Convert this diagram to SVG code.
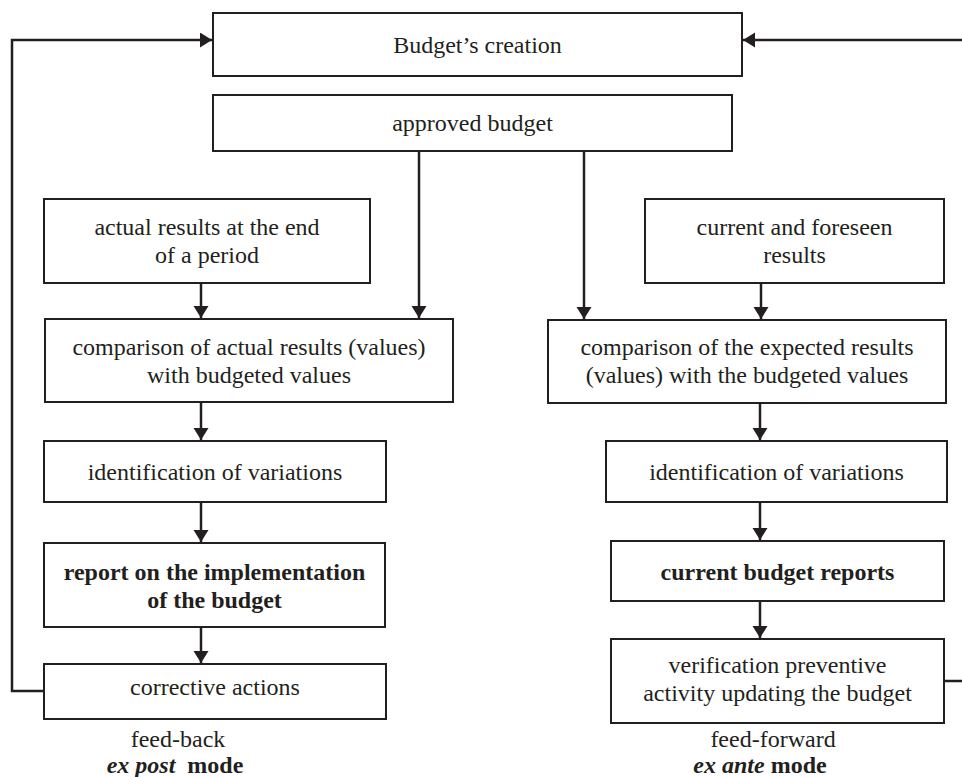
<svg xmlns="http://www.w3.org/2000/svg" width="962" height="777" viewBox="0 0 962 777">
<style>
.box{fill:#fff;stroke:#231f20;stroke-width:2}
.t{font-family:"Liberation Serif","Times New Roman",serif;font-size:24px;fill:#231f20;text-anchor:middle}
.b{font-weight:bold}
.bi{font-weight:bold;font-style:italic}
.c{fill:none;stroke:#231f20;stroke-width:2.5}
</style>
<defs>
<marker id="ah" markerUnits="userSpaceOnUse" markerWidth="13" markerHeight="16" refX="12" refY="7.5" orient="auto">
<path d="M0,0 L12,7.5 L0,15 z" fill="#231f20"/>
</marker>
</defs>
<rect width="962" height="777" fill="#fff"/>
<g id="connectors">
<polyline class="c" points="44,691 12,691 12,40 212,40" marker-end="url(#ah)"/>
<line class="c" x1="944" y1="681" x2="962" y2="681"/>
<line class="c" x1="962" y1="40" x2="743" y2="40" marker-end="url(#ah)"/>
<line class="c" x1="419" y1="151" x2="419" y2="318" marker-end="url(#ah)"/>
<line class="c" x1="584" y1="151" x2="584" y2="319" marker-end="url(#ah)"/>
<line class="c" x1="201" y1="283" x2="201" y2="318" marker-end="url(#ah)"/>
<line class="c" x1="761" y1="283" x2="761" y2="319" marker-end="url(#ah)"/>
<line class="c" x1="201" y1="402" x2="201" y2="440" marker-end="url(#ah)"/>
<line class="c" x1="201" y1="502" x2="201" y2="542" marker-end="url(#ah)"/>
<line class="c" x1="201" y1="627" x2="201" y2="663" marker-end="url(#ah)"/>
<line class="c" x1="760" y1="403" x2="760" y2="440" marker-end="url(#ah)"/>
<line class="c" x1="760" y1="502" x2="760" y2="540" marker-end="url(#ah)"/>
<line class="c" x1="760" y1="601" x2="760" y2="638" marker-end="url(#ah)"/>
</g>
<g id="budget-creation">
<rect class="box" x="213" y="13" width="529" height="63"/>
<text class="t" x="477.5" y="53">Budget’s creation</text>
</g>
<g id="approved-budget">
<rect class="box" x="213" y="95" width="519" height="56"/>
<text class="t" x="472.5" y="131">approved budget</text>
</g>
<g id="actual-results">
<rect class="box" x="44" y="199" width="326" height="84"/>
<text class="t" x="207" y="235">actual results at the end</text>
<text class="t" x="207" y="263">of a period</text>
</g>
<g id="current-foreseen">
<rect class="box" x="645" y="199" width="299" height="84"/>
<text class="t" x="794.5" y="235">current and foreseen</text>
<text class="t" x="794.5" y="263">results</text>
</g>
<g id="comparison-actual">
<rect class="box" x="45" y="319" width="408" height="83"/>
<text class="t" x="249" y="355">comparison of actual results (values)</text>
<text class="t" x="249" y="383">with budgeted values</text>
</g>
<g id="comparison-expected">
<rect class="box" x="548" y="320" width="398" height="83"/>
<text class="t" x="747" y="355">comparison of the expected results</text>
<text class="t" x="747" y="383">(values) with the budgeted values</text>
</g>
<g id="identification-left">
<rect class="box" x="44" y="441" width="342" height="61"/>
<text class="t" x="215" y="480">identification of variations</text>
</g>
<g id="identification-right">
<rect class="box" x="606" y="441" width="341" height="61"/>
<text class="t" x="776.5" y="480">identification of variations</text>
</g>
<g id="report-implementation">
<rect class="box" x="44" y="543" width="341" height="84"/>
<text class="t b" x="214.5" y="580">report on the implementation</text>
<text class="t b" x="214.5" y="608">of the budget</text>
</g>
<g id="current-budget-reports">
<rect class="box" x="611" y="541" width="333" height="60"/>
<text class="t b" x="777.5" y="580">current budget reports</text>
</g>
<g id="corrective-actions">
<rect class="box" x="44" y="664" width="342" height="55"/>
<text class="t" x="215" y="695">corrective actions</text>
</g>
<g id="verification">
<rect class="box" x="611" y="639" width="333" height="84"/>
<text class="t" x="777.5" y="673">verification preventive</text>
<text class="t" x="777.5" y="701">activity updating the budget</text>
</g>
<g id="feedback-label">
<text class="t" x="178" y="747">feed-back</text>
<text class="t" x="175" y="773" xml:space="preserve"><tspan class="bi">ex post</tspan><tspan class="b">  mode</tspan></text>
</g>
<g id="feedforward-label">
<text class="t" x="773" y="747">feed-forward</text>
<text class="t" x="760" y="773"><tspan class="bi">ex ante</tspan><tspan class="b"> mode</tspan></text>
</g>
</svg>
